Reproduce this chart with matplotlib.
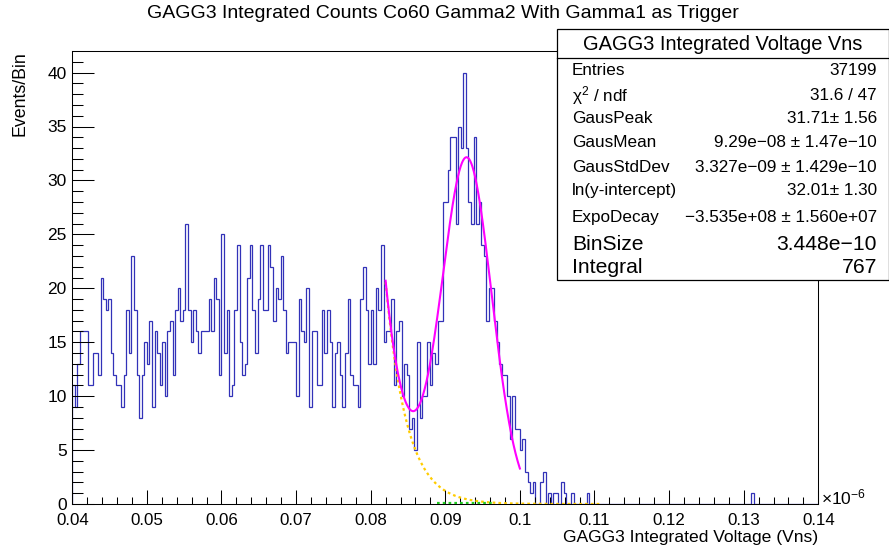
import numpy as np
import matplotlib
matplotlib.use("Agg")
import matplotlib.pyplot as plt
from matplotlib.patches import Rectangle
from matplotlib.lines import Line2D

plt.rcParams['font.family'] = ['Liberation Sans', 'DejaVu Sans']
plt.rcParams['mathtext.fontset'] = 'custom'
plt.rcParams['mathtext.rm'] = 'Liberation Sans'
plt.rcParams['mathtext.it'] = 'Liberation Sans:italic'
plt.rcParams['mathtext.bf'] = 'Liberation Sans:bold'

# ---------------- data ----------------
x_min, x_max, n_bins = 0.04, 0.14, 290   # in units of 1e-6 Vns

counts_a = [11, 9, 13, 16, 16, 16, 11, 11, 14, 14, 12, 21, 19, 18, 19, 14, 12, 11, 11, 9, 12]
counts_b = [18, 14, 23, 18, 12, 8, 12, 15, 13, 17, 9, 16, 14, 11, 15, 10, 16, 17, 12, 18, 20, 17, 18]
counts_c = [26, 18, 15, 18, 16, 14, 16, 16, 16, 19, 16, 21, 19, 12, 25, 14, 18, 10, 11, 18, 24, 15, 12]
counts_d = [13, 21, 24, 18, 14, 19, 24, 18, 18, 24, 22, 17, 20, 19, 23, 18, 14, 15, 15, 15, 10, 19]
counts_e = [16, 15, 20, 9, 16, 16, 11, 11, 18, 14, 18, 15, 9, 14, 15, 12, 9, 14, 19, 12, 11, 11, 9]
counts_f = [19, 22, 18, 13, 18, 13, 20, 18, 24, 15, 16, 16, 19, 11, 16, 17, 10, 13, 12, 7, 8, 5]
counts_g = [15, 8, 10, 10, 15, 11, 14, 13, 17, 17, 28, 28, 31, 34, 34, 26, 35, 33, 40, 33, 28, 26, 34]
counts_h = [26, 28, 24, 23, 17, 20, 20, 17, 15, 13, 12, 12, 10, 6, 10, 7, 7, 5, 6, 3, 2, 1]
counts_i = [2, 0, 0, 2, 3, 0, 1, 0, 1, 1, 0, 2, 1, 0, 0, 1, 0, 0, 0, 0, 0, 1]
counts_tail = [0] * 63 + [1] + [0] * 25          # bins 201 .. 289

counts = np.array(counts_a + counts_b + counts_c + counts_d + counts_e +
                  counts_f + counts_g + counts_h + counts_i + counts_tail, dtype=float)

# fit parameters (from the stats box)
gaus_peak = 31.71
gaus_mean = 9.29e-08
gaus_sigma = 3.327e-09
ln_intercept = 32.01
expo_decay = -3.535e+08
fit_range = (0.082, 0.100)
expo_range = (0.082, 0.111)
green_range = (0.0889, 0.0965)

x_ticks = [0.04, 0.05, 0.06, 0.07, 0.08, 0.09, 0.10, 0.11, 0.12, 0.13, 0.14]
x_tick_labels = ["0.04", "0.05", "0.06", "0.07", "0.08", "0.09", "0.1",
                 "0.11", "0.12", "0.13", "0.14"]
y_ticks = [0, 5, 10, 15, 20, 25, 30, 35, 40]

stats_names = ["Entries", "\u03c7$^{2}$ / ndf", "GausPeak", "GausMean", "GausStdDev",
               "ln(y-intercept)", "ExpoDecay", "BinSize", "Integral"]
stats_values = ["37199", "31.6 / 47", "31.71\u00b1 1.56", "9.29e\u221208 \u00b1 1.47e\u221210",
                "3.327e\u221209 \u00b1 1.429e\u221210", "32.01\u00b1 1.30",
                "\u22123.535e+08 \u00b1 1.560e+07", "3.448e\u221210", "767"]

# ---------------- figure ----------------
W, H = 889, 552
fig = plt.figure(figsize=(W / 100, H / 100), dpi=100)
ax_l, ax_r, ax_t, ax_b = 72.3, 818.3, 51.0, 504.0
ax = fig.add_axes([ax_l / W, 1 - ax_b / H, (ax_r - ax_l) / W, (ax_b - ax_t) / H])

hist_color = '#3232b8'
edges = np.linspace(x_min, x_max, n_bins + 1)
ax.stairs(counts, edges, color=hist_color, lw=0.9, baseline=0)

def gaus(xu):
    xr = xu * 1e-6
    return gaus_peak * np.exp(-0.5 * ((xr - gaus_mean) / gaus_sigma) ** 2)

def expo(xu):
    xr = xu * 1e-6
    return np.exp(ln_intercept + expo_decay * xr)

xe = np.linspace(*expo_range, 400)
ax.plot(xe, expo(xe), color='#ffcc00', lw=1.6, ls=(0, (1.2, 1.4)), zorder=3)
xg = np.linspace(*green_range, 100)
ax.plot(xg, np.zeros_like(xg) + 0.05, color='#22cc22', lw=1.6, ls=(0, (1.2, 1.4)), zorder=3)
xf = np.linspace(*fit_range, 400)
ax.plot(xf, gaus(xf) + expo(xf), color='#ff00ff', lw=1.5, zorder=4)

ax.set_xlim(x_min, x_max)
ax.set_ylim(0, 42)
ax.set_xticks(x_ticks)
ax.set_xticklabels(x_tick_labels)
ax.set_xticks(np.arange(0.04, 0.1401, 0.002), minor=True)
ax.set_yticks(y_ticks)
ax.set_yticks(np.arange(0, 42, 1), minor=True)
ax.tick_params(axis='x', which='major', direction='in', length=9.8, width=0.75,
               labelsize=12.2, pad=6.3, top=False)
ax.tick_params(axis='x', which='minor', direction='in', length=4.9, width=0.75, top=False)
ax.tick_params(axis='y', which='major', direction='in', length=16.1, width=0.75,
               labelsize=12.5, pad=4, right=False)
ax.tick_params(axis='y', which='minor', direction='in', length=8.0, width=0.75, right=False)
for s in ax.spines.values():
    s.set_linewidth(0.75)

# axis titles
fig.text(ax_r / W, 1 - 542 / H, "GAGG3 Integrated Voltage (Vns)", ha='right', va='baseline',
         fontsize=12.6)
fig.text(20 / W, 1 - ax_t / H, "Events/Bin", rotation=90, ha='center', va='top', fontsize=12.8)
fig.text(821 / W, 1 - 497 / H, r"$\times$10$^{-6}$", ha='left', va='center', fontsize=12.5)

# title
fig.text(443 / W, 1 - 13 / H, "GAGG3 Integrated Counts Co60 Gamma2 With Gamma1 as Trigger",
         ha='center', va='center', fontsize=14)

# stats box
bx_l, bx_t, bx_r, bx_b = 556.7, 28.5, 888.5, 279.7
fig.add_artist(Rectangle((bx_l / W, 1 - bx_b / H), (bx_r - bx_l) / W, (bx_b - bx_t) / H,
                         transform=fig.transFigure, facecolor='white', edgecolor='black',
                         lw=0.9, zorder=10))
fig.add_artist(Line2D([bx_l / W, bx_r / W], [1 - 58 / H, 1 - 58 / H], transform=fig.transFigure,
                      color='black', lw=0.9, zorder=11))
fig.text((bx_l + bx_r) / 2 / W, 1 - 44.5 / H, "GAGG3 Integrated Voltage Vns", ha='center',
         va='center', fontsize=14.4, zorder=12)
row_y = [70.7, 95.2, 118.7, 143.0, 167.0, 190.3, 217.3, 245.0, 268.0]
row_fs = [12.3, 12.3, 12.3, 12.3, 12.3, 12.3, 12.3, 15.2, 15.2]
for name, val, y, fs in zip(stats_names, stats_values, row_y, row_fs):
    fig.text(572 / W, 1 - y / H, name, ha='left', va='center', fontsize=fs, zorder=12)
    fig.text(877 / W, 1 - y / H, val, ha='right', va='center', fontsize=fs, zorder=12)

fig.savefig("out.png", dpi=100)
